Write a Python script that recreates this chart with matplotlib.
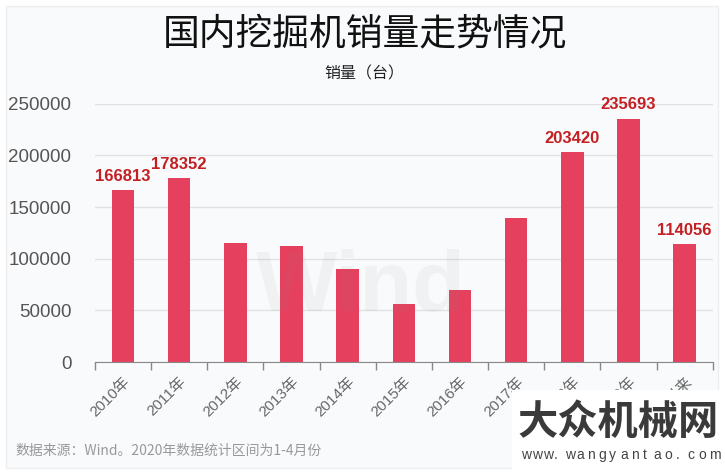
import matplotlib
matplotlib.use('Agg')
from matplotlib import pyplot as plt
from matplotlib.patches import Rectangle
import numpy as np

# 字体：数字用 Liberation Sans，中文回退到 Noto Sans CJK SC
plt.rcParams['font.family'] = ['Liberation Sans', 'Noto Sans CJK SC']
plt.rcParams['axes.unicode_minus'] = False

# 数据
years = ['2010年', '2011年', '2012年', '2013年', '2014年', '2015年',
         '2016年', '2017年', '2018年', '2019年', '2020年以来']
sales = [166813, 178352, 115000, 112400, 90100, 56200,
         69800, 139800, 203420, 235693, 114056]
labeled = [166813, 178352, None, None, None, None,
           None, None, 203420, 235693, 114056]
yticks = [0, 50000, 100000, 150000, 200000, 250000]

bar_color = '#e5405e'
label_color = '#c41f22'
text_grey = '#555555'

fig = plt.figure(figsize=(7.25, 4.74), dpi=100)
fig.patch.set_facecolor('white')
# 浅色卡片背景
fig.patches.append(Rectangle((0.008, 0.012), 0.983, 0.976, transform=fig.transFigure,
                             facecolor='#f9fafc', edgecolor='#eeeeee', lw=1, zorder=-10))

ax = fig.add_axes([0.131, 0.236, 0.852, 0.545])
ax.set_facecolor('none')

x = np.arange(len(years))
ax.bar(x, sales, width=0.4, color=bar_color, zorder=3)

# 数据标签
for xi, v in zip(x, labeled):
    if v is not None:
        ax.text(xi, v + 6000, str(v), ha='center', va='bottom', fontsize=12,
                fontweight='bold', color=label_color, zorder=5, clip_on=False)

ax.set_xlim(-0.5, len(years) - 0.5)
ax.set_ylim(0, 250000)
ax.set_yticks(yticks)
ax.set_yticklabels([str(t) for t in yticks], fontsize=13.5, color=text_grey)
ax.tick_params(axis='y', length=0, pad=17)
ax.grid(axis='y', color='#e2e2e2', lw=1, zorder=0)

# x 轴：刻度线在分界处，标签在柱中心
ax.set_xticks(x)
ax.set_xticklabels(years, rotation=45, ha='right', rotation_mode='anchor',
                   fontsize=11, color='#666666')
ax.tick_params(axis='x', which='major', length=0, pad=9)
ax.set_xticks(np.arange(-0.5, len(years)), minor=True)
ax.tick_params(axis='x', which='minor', length=6, color='#888888', width=1)

for s in ['top', 'right', 'left']:
    ax.spines[s].set_visible(False)
ax.spines['bottom'].set_color('#888888')
ax.spines['bottom'].set_zorder(4)

# 标题
fig.text(0.503, 0.928, '国内挖掘机销量走势情况', ha='center', va='center',
         fontsize=26.5, color='#111111', family=['Noto Sans CJK SC'])
fig.text(0.503, 0.845, '销量（台）', ha='center', va='center',
         fontsize=11.5, color='#222222', family=['Noto Sans CJK SC'])

# Wind 水印
fig.text(0.497, 0.39, 'Wind', ha='center', va='center', fontsize=62,
         fontweight='bold', color='#888888', alpha=0.08, zorder=6)

# 脚注
fig.text(0.022, 0.048, '数据来源：Wind。2020年数据统计区间为1-4月份', ha='left',
         va='center', fontsize=10, color='#999999', family=['Noto Sans CJK SC'])

# 右下角网站水印
fig.patches.append(Rectangle((0.706, 0.0), 0.294, 0.178, transform=fig.transFigure,
                             facecolor='white', edgecolor='none', zorder=8))
fig.text(0.853, 0.108, '大众机械网', ha='center', va='center', fontsize=29,
         fontweight='bold', color='#3a3a3a', family=['Noto Sans CJK SC'], zorder=9)
url = 'www.wangyantao.com'
for i, ch in enumerate(url):
    fig.text(0.718 + i * 0.0153, 0.04, ch, ha='left', va='center', fontsize=10,
             color='#444444', zorder=9)

fig.savefig('out.png', dpi=100)
